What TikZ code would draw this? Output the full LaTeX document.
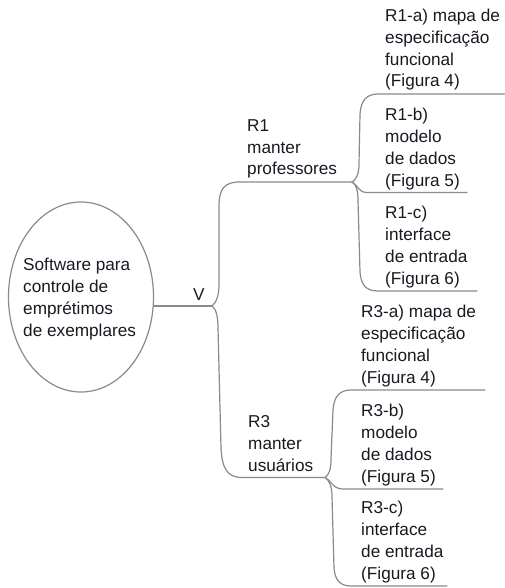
\documentclass[tikz,border=0pt]{standalone}
\usepackage{fontspec}
\setmainfont{Liberation Sans}
\usetikzlibrary{shapes.geometric}
\definecolor{linegray}{RGB}{138,138,138}
\definecolor{txt}{RGB}{25,25,35}
\begin{document}
\begin{tikzpicture}[x=1pt,y=-1pt,
  lbl/.style={anchor=base west,inner sep=0pt,align=left,text=txt,
    font=\fontsize{17.2}{21.8}\selectfont},
  conn/.style={draw=linegray,line width=1.2pt,line cap=round,line join=round},
  rootshape/.style={ellipse,draw=linegray,line width=1.2pt,minimum width=145pt,minimum height=190pt,inner sep=0pt}]
\useasboundingbox (0,0) rectangle (505,588);
% root
\node[rootshape] (root) at (81,297) {};
\node[lbl,font=\fontsize{17.2}{22}\selectfont] (roottxt) at (23,336.7) {Software para\\controle de\\emprétimos\\de exemplares};
% junction points
\coordinate (j0) at (212,306);
\coordinate (j1) at (352,182);
\coordinate (j3) at (325,477.5);
\coordinate (e1a) at (505,94);
\coordinate (e1b) at (467,192.5);
\coordinate (e1c) at (477,291);
\coordinate (e3a) at (485,390);
\coordinate (e3b) at (443,489);
\coordinate (e3c) at (447,586);
% labels
\node[lbl] (v) at (193,300) {V};
\node[lbl] (r1) at (247,175) {R1\\manter\\professores};
\node[lbl] (r3) at (248,471) {R3\\manter\\usuários};
\node[lbl] (r1a) at (385,87) {R1-a) mapa de\\especificação\\funcional\\(Figura 4)};
\node[lbl] (r1b) at (385,186) {R1-b)\\modelo\\de dados\\(Figura 5)};
\node[lbl] (r1c) at (385,284) {R1-c)\\interface\\de entrada\\(Figura 6)};
\node[lbl] (r3a) at (361,383) {R3-a) mapa de\\especificação\\funcional\\(Figura 4)};
\node[lbl] (r3b) at (361,482) {R3-b)\\modelo\\de dados\\(Figura 5)};
\node[lbl] (r3c) at (361,579) {R3-c)\\interface\\de entrada\\(Figura 6)};
% connectors
\draw[conn] (root.east |- j0) -- (j0);
\draw[conn] (j0) .. controls (216,303) and (219,296) .. (219,284) -- (219,206)
  .. controls (219,188) and (225,182) .. (240,182) -- (j1);
\draw[conn] (j0) .. controls (216,309) and (218,316) .. (218,328) -- (221,448)
  .. controls (222,468) and (227,477.5) .. (242,477.5) -- (j3);
% R1 children
\draw[conn] (j1) .. controls (356,180) and (359,174) .. (359,164) -- (360,114)
  .. controls (361,101) and (366,94) .. (378,94) -- (e1a);
\draw[conn] (j1) .. controls (357,184) and (358,192.5) .. (367,192.5) -- (e1b);
\draw[conn] (j1) .. controls (356,184) and (358,190) .. (358,201) -- (360,272)
  .. controls (361,285) and (366,291) .. (378,291) -- (e1c);
% R3 children
\draw[conn] (j3) .. controls (329,475) and (331,469) .. (331,459) -- (333,410)
  .. controls (334,397) and (339,390) .. (351,390) -- (e3a);
\draw[conn] (j3) .. controls (331,479.5) and (332,489) .. (343,489) -- (e3b);
\draw[conn] (j3) .. controls (329,480) and (332,486) .. (332,497) -- (334,568)
  .. controls (335,580) and (340,586) .. (351,586) -- (e3c);
\end{tikzpicture}
\end{document}
